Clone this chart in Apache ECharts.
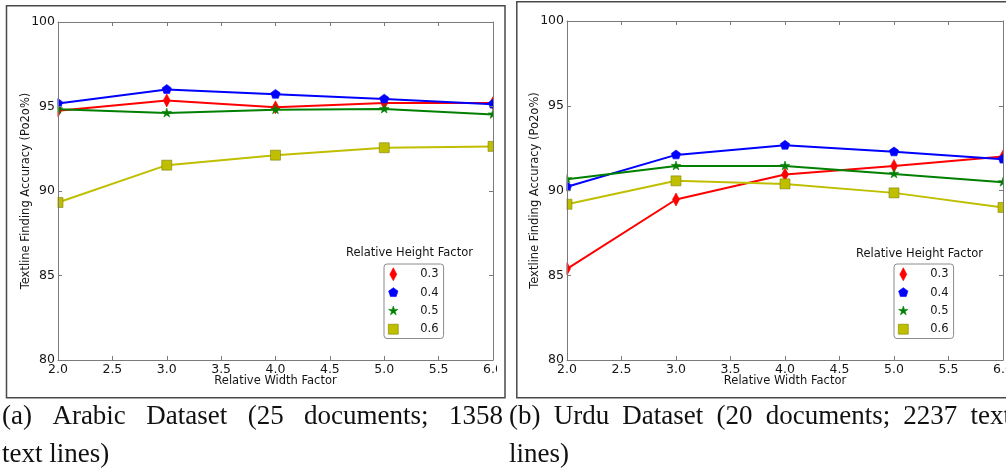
<!DOCTYPE html>
<html>
<head>
<meta charset="utf-8">
<script src="https://cdn.jsdelivr.net/npm/echarts@6/dist/echarts.min.js"></script>
<style>
  html, body { margin: 0; padding: 0; background: #fff; }
  #chart { width: 1006px; height: 471px; }
</style>
</head>
<body>
<div id="chart"></div>
<script>
// ---- data -------------------------------------------------------------
const widthFactors = [2, 3, 4, 5, 6];
const heightFactors = ['0.3', '0.4', '0.5', '0.6'];

// Arabic dataset accuracy per relative height factor
const arabic03 = [94.75, 95.36, 94.95, 95.20, 95.20];
const arabic04 = [95.18, 96.01, 95.72, 95.44, 95.14];
const arabic05 = [94.83, 94.61, 94.81, 94.85, 94.53];
const arabic06 = [89.32, 91.53, 92.12, 92.56, 92.64];

// Urdu dataset accuracy per relative height factor
const urdu03 = [85.38, 89.47, 90.94, 91.45, 92.00];
const urdu04 = [90.22, 92.10, 92.67, 92.28, 91.85];
const urdu05 = [90.67, 91.45, 91.45, 90.98, 90.49];
const urdu06 = [89.19, 90.57, 90.39, 89.86, 89.00];

// axis ranges
const xRange = [2, 6, 0.5];
const yRange = [80, 100, 5];

const xTitle = 'Relative Width Factor';
const yTitle = 'Textline Finding Accuracy (Po2o%)';
const legendTitle = 'Relative Height Factor';
const captionA = ['(a) Arabic Dataset (25 documents; 1358', 'text lines)'];
const captionB = ['(b) Urdu Dataset (20 documents; 2237 text', 'lines)'];

// ---- styles -----------------------------------------------------------
const colors = ['#ff0000', '#0000ff', '#007f00', '#bfbf00'];
const edges = ['#ff0000', '#0000ff', '#007f00', '#808000'];
// every marker path shares the same [-1,1] box so one symbol size fits all
const box = 'M-1 -1M1 1';
const markers = [
  'path://' + box + 'M0 -0.93L0.5 0L0 0.93L-0.5 0Z',
  'path://' + box + 'M0 -0.7L0.666 -0.216L0.411 0.566L-0.411 0.566L-0.666 -0.216Z',
  'path://' + box + 'M0 -0.7L0.158 -0.216L0.666 -0.216L0.255 0.083L0.411 0.566L0 0.268L-0.411 0.566L-0.255 0.083L-0.666 -0.216L-0.158 -0.216Z',
  'path://' + box + 'M-0.71 -0.71L0.71 -0.71L0.71 0.71L-0.71 0.71Z'
];
const spine = '#7a7a7a';
const textColor = '#151515';
const sans = 'DejaVu Sans';
const serif = 'Liberation Serif';

const panels = [
  { grid: { left: 58, top: 22, width: 435, height: 338 }, sets: [arabic03, arabic04, arabic05, arabic06] },
  { grid: { left: 567, top: 21, width: 436, height: 339 }, sets: [urdu03, urdu04, urdu05, urdu06] }
];

const grids = [], xAxes = [], yAxes = [], series = [];
panels.forEach((p, gi) => {
  grids.push(Object.assign({ outerBoundsMode: 'none', containLabel: false }, p.grid));
  const common = {
    type: 'value', gridIndex: gi, z: 10,
    splitLine: { show: false },
    axisLine: { show: true, onZero: false, lineStyle: { color: spine, width: 1 } },
    axisTick: { show: true, inside: true, length: 4, lineStyle: { color: spine, width: 1 } }
  };
  xAxes.push(Object.assign({}, common, {
    position: 'bottom', min: xRange[0], max: xRange[1], interval: xRange[2],
    axisLabel: { margin: 3, fontSize: 12.5, color: textColor, fontFamily: sans, formatter: v => v.toFixed(1) },
    name: xTitle, nameLocation: 'middle', nameGap: 15, nameMoveOverlap: false,
    nameTextStyle: { fontSize: 11.5, color: textColor, fontFamily: sans }
  }));
  xAxes.push(Object.assign({}, common, {
    position: 'top', min: xRange[0], max: xRange[1], interval: xRange[2],
    axisLabel: { show: false }
  }));
  yAxes.push(Object.assign({}, common, {
    position: 'left', min: yRange[0], max: yRange[1], interval: yRange[2],
    axisLabel: { margin: 3, fontSize: 12.5, color: textColor, fontFamily: sans },
    name: yTitle, nameLocation: 'middle', nameGap: 26, nameMoveOverlap: false,
    nameTextStyle: { fontSize: 11.5, color: textColor, fontFamily: sans }
  }));
  yAxes.push(Object.assign({}, common, {
    position: 'right', min: yRange[0], max: yRange[1], interval: yRange[2],
    axisLabel: { show: false }
  }));
  p.sets.forEach((vals, si) => {
    series.push({
      type: 'line', name: heightFactors[si],
      xAxisIndex: gi * 2, yAxisIndex: gi * 2,
      data: widthFactors.map((x, i) => [x, vals[i]]),
      symbol: markers[si], symbolSize: 14, showAllSymbol: true, clip: false,
      lineStyle: { color: colors[si], width: 2 },
      itemStyle: { color: colors[si], borderColor: edges[si], borderWidth: 0.6 },
      emphasis: { disabled: true }, animation: false
    });
  });
});

function makeLegend(left, top) {
  return {
    left: left, top: top, orient: 'vertical',
    itemWidth: 14, itemHeight: 14, itemGap: 3.7,
    padding: [3, 5, 2, 2],
    borderColor: '#8c8c8c', borderWidth: 1, borderRadius: 3, backgroundColor: '#fff',
    selectedMode: false, z: 12,
    itemStyle: { borderWidth: 0.6 },
    data: heightFactors.map((h, i) => ({ name: h, icon: markers[i] })),
    textStyle: { fontSize: 11.5, color: textColor, fontFamily: sans, padding: [0, 0, 0, 15] }
  };
}

// ---- captions: justified serif lines under each panel -----------------
const measureCtx = document.createElement('canvas').getContext('2d');
const capFont = 27;
measureCtx.font = capFont + 'px "' + serif + '"';
function placeLine(text, x0, x1, y, justify) {
  const words = text.split(' ');
  const widths = words.map(w => measureCtx.measureText(w).width);
  const total = widths.reduce((a, b) => a + b, 0);
  const gap = justify && words.length > 1 ? (x1 - x0 - total) / (words.length - 1) : measureCtx.measureText(' ').width;
  const out = [];
  let x = x0;
  words.forEach((w, i) => {
    out.push({
      type: 'text', x: x, y: y, z: 40,
      style: { text: w, fill: '#111', font: capFont + 'px "' + serif + '"', verticalAlign: 'middle', align: 'left' }
    });
    x += widths[i] + gap;
  });
  return out;
}

const whiteRect = (x, y, w, h, z) => ({ type: 'rect', z: z, shape: { x, y, width: w, height: h }, style: { fill: '#fff' }, silent: true });
const frame = (x, y, w, h) => ({ type: 'rect', z: 30, shape: { x, y, width: w, height: h }, style: { fill: 'none', stroke: '#4a4a4a', lineWidth: 1.5 }, silent: true });
const title = (x, y) => ({ type: 'text', x, y, z: 12, style: { text: legendTitle, fill: textColor, font: '11.5px "' + sans + '"', align: 'center', verticalAlign: 'middle' } });

const graphics = [
  // markers are cut at the plot edges
  whiteRect(44, 15, 13.5, 350, 5),
  whiteRect(493.5, 15, 12, 350, 5),
  whiteRect(553, 12, 13.5, 352, 5),
  whiteRect(1003.5, 12, 4, 352, 5),
  // left figure is cropped just past its right spine
  whiteRect(497, 8, 7.5, 388, 25),
  frame(6.5, 5.8, 498.5, 392),
  frame(516.8, 1.8, 500, 396),
  title(409.5, 253),
  title(919.5, 254)
].concat(
  placeLine(captionA[0], 2, 503, 417, true),
  placeLine(captionA[1], 2, 503, 455, false),
  placeLine(captionB[0], 509, 1011, 417, true),
  placeLine(captionB[1], 509, 1011, 455, false)
);

const chart = echarts.init(document.getElementById('chart'), null, { renderer: 'canvas' });
chart.setOption({
  animation: false,
  backgroundColor: '#fff',
  grid: grids,
  xAxis: xAxes,
  yAxis: yAxes,
  legend: [makeLegend(384, 264), makeLegend(894, 264)],
  series: series,
  graphic: graphics
});
</script>
</body>
</html>
